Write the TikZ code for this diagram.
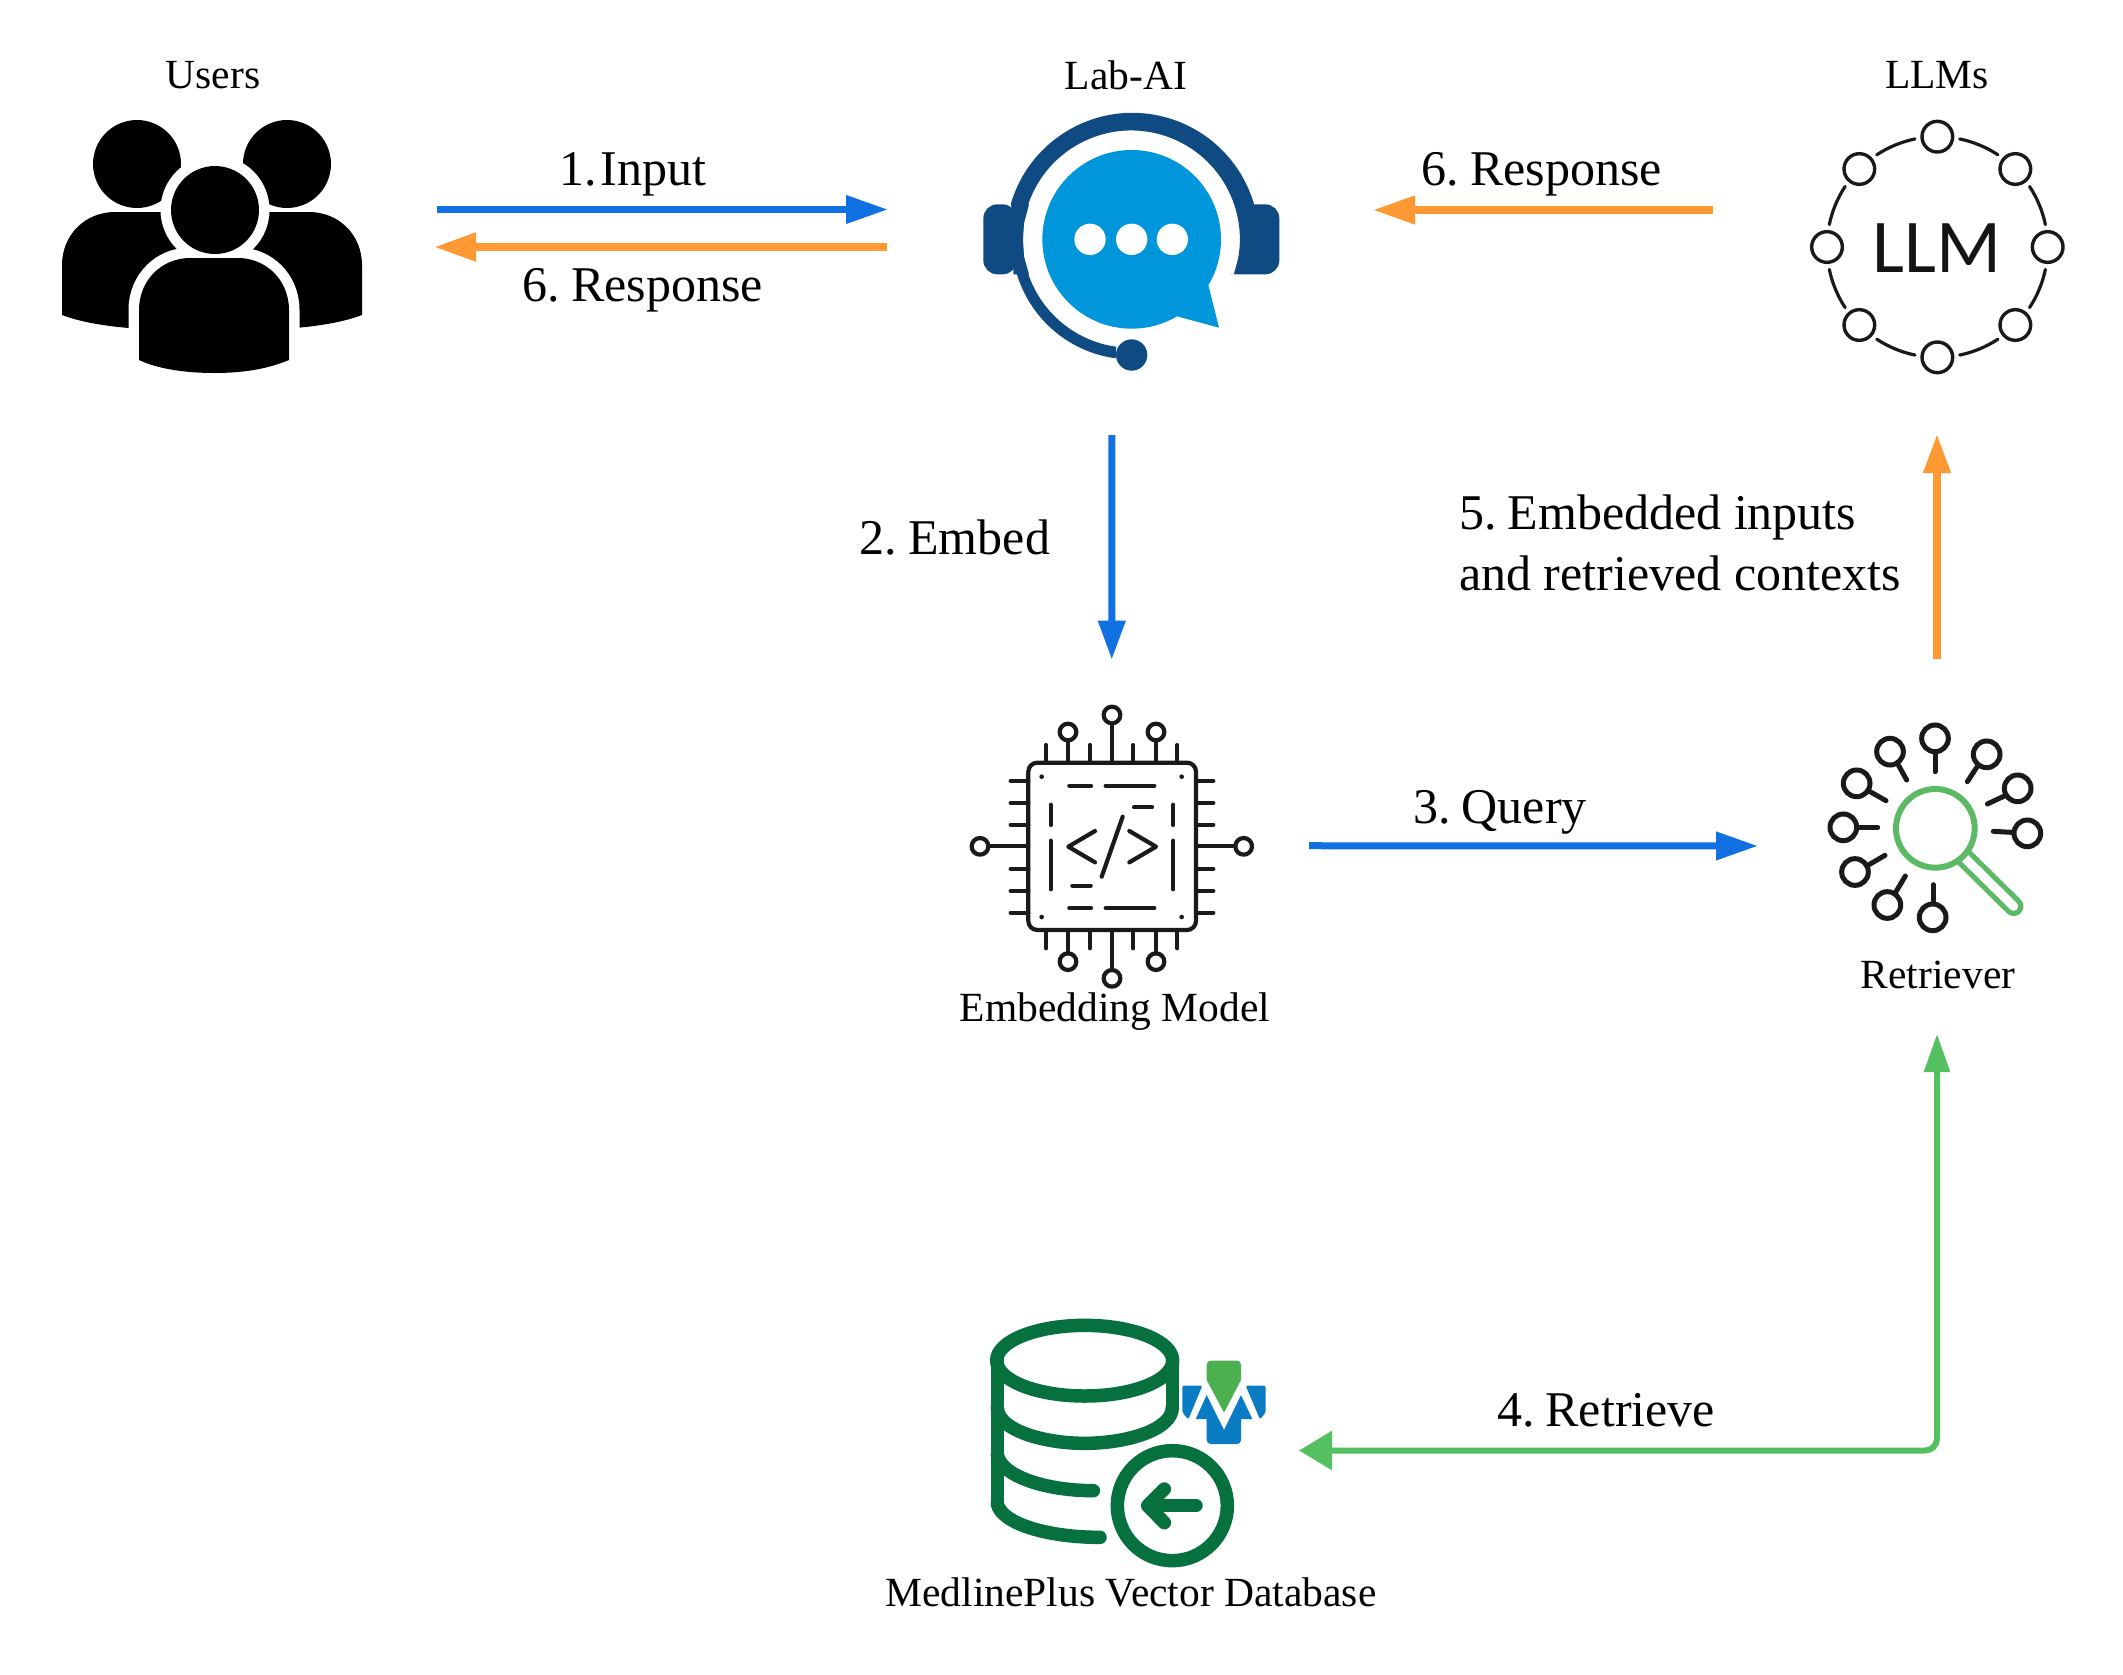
\documentclass[tikz,border=0pt]{standalone}
\usepackage{fontspec}
\setmainfont{Liberation Serif}
\newfontfamily\llmfont{Carlito}
\usetikzlibrary{arrows.meta}
\definecolor{arrblue}{HTML}{1170E2}
\definecolor{arrorange}{HTML}{FF9933}
\definecolor{arrgreen}{HTML}{55C060}
\definecolor{headdark}{HTML}{104A82}
\definecolor{bubble}{HTML}{0096DB}
\definecolor{inkdark}{HTML}{1A1A1A}
\definecolor{lensgreen}{HTML}{5CB966}
\definecolor{dbgreen}{HTML}{06703F}
\definecolor{medblue}{HTML}{0A7CC4}
\definecolor{medgreen}{HTML}{4CB050}
\tikzset{
  x=1pt,y=-1pt,
  iconbox/.style={inner sep=0pt,outer sep=0pt,minimum width=#1},
  smalllab/.style={inner sep=0pt,font=\fontsize{41.5}{50}\selectfont},
  biglab/.style={inner sep=0pt,font=\fontsize{50}{61}\selectfont,align=left},
  conn/.style={line width=#1,-{Triangle[length=42pt,width=27pt]}},
  connv/.style={line width=#1,-{Triangle[length=39pt,width=26pt]}},
  connboth/.style={line width=#1,{Triangle[length=38pt,width=25pt]}-{Triangle[length=33pt,width=38pt]}},
  chipline/.style={draw=inkdark,line width=4.2pt,line cap=round,line join=round},
  dbline/.style={draw=dbgreen,line width=13.5pt,line cap=round,line join=round},
  seek/.style={draw=inkdark,line width=5pt,line cap=round},
}
\begin{document}
\begin{tikzpicture}
\useasboundingbox (0,0) rectangle (2123,1674);
\fill[white] (0,0) rectangle (2123,1674);

% ---------- anchor boxes of the icons
\node[iconbox=300pt,minimum height=253pt] (users) at (212,246.5) {};
\node[iconbox=296pt,minimum height=258pt] (labai) at (1131,242) {};
\node[iconbox=254pt,minimum height=254pt] (llm) at (1937,247) {};
\node[iconbox=283pt,minimum height=282pt] (embed) at (1111.7,845.7) {};
\node[iconbox=216pt,minimum height=207pt] (retr) at (1935,826.5) {};
\node[iconbox=277pt,minimum height=247pt] (db) at (1128.5,1441.5) {};

% ---------- Users icon
\fill[black] (137,164) circle[radius=44pt] (287,164) circle[radius=44pt];
\fill[black] (62,315) -- (62,265) .. controls (62,235) and (85,212) .. (115,212) -- (180,212) -- (180,328) -- (129,328) .. controls (105,326) and (80,322) .. (62,315) -- cycle;
\fill[black] (362,315) -- (362,265) .. controls (362,235) and (339,212) .. (309,212) -- (244,212) -- (244,328) -- (295,328) .. controls (319,326) and (344,322) .. (362,315) -- cycle;
\def\cbody{(139,360) -- (139,310) .. controls (139,280) and (162,258) .. (190,258) -- (238,258) .. controls (266,258) and (289,280) .. (289,310) -- (289,360) .. controls (265,370) and (240,373) .. (214,373) .. controls (190,373) and (160,370) .. (139,360) -- cycle}
\draw[white,line width=21pt] (215,210) circle[radius=44pt];
\draw[white,line width=21pt,fill=white] \cbody;
\fill[black] (215,210) circle[radius=44pt];
\fill[black] \cbody;

% ---------- Lab-AI icon
\begin{scope}[shift={(950,90)},scale=1/3]
  \fill[bubble] (545,448) circle[radius=268pt];
  \fill[bubble] (775,585) -- (807,713) -- (685,680) -- (600,600) -- cycle;
  \fill[white] (420,448) circle[radius=47pt] (545,448) circle[radius=47pt] (667,448) circle[radius=47pt];
  \fill[headdark] (852,553) arc[start angle=-18.9,end angle=262.1,radius=326pt]
     -- (497,805) arc[start angle=262.3,end angle=197,radius=360pt]
     -- (183,340) arc[start angle=163.4,end angle=16.4,radius=380pt] -- cycle;
  \fill[headdark,rounded corners=14pt] (900,343) -- (988,343) -- (988,553) -- (880,553) [sharp corners] -- (852,553) -- (880,448) -- cycle;
  \fill[headdark] (237,343) -- (222,400) -- (219,448) -- (222,500) -- (237,553) -- (190,553) -- (190,343) -- cycle;
  \fill[headdark,rounded corners=14pt] (200,343) -- (100,343) -- (100,553) -- (200,553) -- cycle;
  \fill[headdark] (545,795) circle[radius=47pt];
\end{scope}

% ---------- LLM icon
\begin{scope}[shift={(1790,100)},scale=1/3]
  \foreach \px/\py in {442/110,773/441,442/772,111/441,208/207,676/207,208/675,676/675}
    \draw[black!90,line width=3.4pt] (\px,\py) circle[radius=46pt];
  \foreach \k in {0,...,7}
    \draw[black!90,line width=3.2pt,line cap=round]
      ({442+331*cos(11.7+45*\k)},{441-331*sin(11.7+45*\k)}) arc[start angle={11.7+45*\k},end angle={33.3+45*\k},radius=331pt];
\end{scope}
\node[inner sep=0pt,font=\llmfont\fontsize{76}{76}\selectfont,text=black!92] (llmword) at (1937,248) {LLM};

% ---------- Embedding chip icon
\begin{scope}[shift={(950,690)},scale=1/3]
  \draw[chipline,rounded corners=9pt] (235,218) rectangle (738,720);
  \foreach \p in {288,420,550,682} {
    \draw[chipline] (\p,218) -- (\p,165);
    \draw[chipline] (\p,720) -- (\p,775);
  }
  \foreach \p in {272,338,404,536,602,668} {
    \draw[chipline] (235,\p) -- (182,\p);
    \draw[chipline] (738,\p) -- (790,\p);
  }
  \draw[chipline] (354,218) -- (354,150) (618,218) -- (618,150) (486,218) -- (486,100);
  \draw[chipline] (354,720) -- (354,790) (618,720) -- (618,790) (486,720) -- (486,840);
  \draw[chipline] (235,469) -- (117,469) (738,469) -- (855,469);
  \draw[chipline] (354,126) circle[radius=25pt] (618,126) circle[radius=25pt] (486,75) circle[radius=25pt];
  \draw[chipline] (354,815) circle[radius=25pt] (618,815) circle[radius=25pt] (486,865) circle[radius=25pt];
  \draw[chipline] (90,469) circle[radius=25pt] (881,469) circle[radius=25pt];
  \draw[chipline] (358,287) -- (423,287) (467,287) -- (613,287) (552,352) -- (606,352);
  \draw[chipline] (302,344) -- (302,405) (302,452) -- (302,598) (670,344) -- (670,405) (670,452) -- (670,598);
  \draw[chipline] (367,587) -- (422,587) (358,654) -- (423,654) (467,654) -- (613,654);
  \draw[chipline] (435,423) -- (355,470) -- (435,517);
  \draw[chipline] (518,380) -- (455,560);
  \draw[chipline] (538,423) -- (618,470) -- (538,517);
  \fill[inkdark] (275,260) circle[radius=7pt] (695,260) circle[radius=7pt] (275,681) circle[radius=7pt] (695,681) circle[radius=7pt];
\end{scope}

% ---------- Retriever icon
\begin{scope}[shift={(1810,710)},scale=1/3]
  \foreach \cx/\cy/\ax/\ay/\bx/\by in {
    375/85/375/130/375/185,
    240/125/265/165/290/210,
    140/220/180/245/228/272,
    100/352/148/352/203/352,
    135/486/175/465/225/436,
    232/585/258/545/286/498,
    368/622/370/575/370/524,
    530/133/500/172/472/215,
    623/235/583/258/532/282,
    652/370/605/367/550/364} {
    \draw[seek] (\cx,\cy) circle[radius=40pt];
    \draw[seek] (\ax,\ay) -- (\bx,\by);
  }
  \draw[lensgreen,line width=19.5pt,line cap=round] (440,420) -- (611,589);
  \draw[white,line width=9pt,line cap=round] (450,430) -- (611,589);
  \draw[lensgreen,line width=6pt,fill=white] (376,355) circle[radius=118pt];
\end{scope}

% ---------- Database icon
\begin{scope}[shift={(970,1300)},scale=1/3]
  \draw[dbline] (344,182) ellipse[x radius=264pt,y radius=106pt];
  \draw[dbline] (82,182) -- (82,612);
  \draw[dbline] (607,182) -- (607,322);
  \draw[dbline] (82,322) .. controls (82,390) and (220,430) .. (344,430) .. controls (468,430) and (607,390) .. (607,322);
  \draw[dbline] (82,465) .. controls (95,530) and (230,572) .. (370,572);
  \draw[dbline] (82,612) .. controls (95,670) and (230,712) .. (390,712);
  \draw[dbline] (607,617) circle[radius=165pt];
  \draw[dbline] (678,617) -- (538,617);
  \draw[dbline] (583,567) -- (533,617) -- (583,668);
  % MedlinePlus logo
  \fill[medblue,rounded corners=2pt] (637,257) -- (697,257) -- (655,358) -- (637,338) -- cycle;
  \fill[medblue,rounded corners=2pt] (887,257) -- (827,257) -- (870,358) -- (887,338) -- cycle;
  \fill[medblue] (677,357) -- (710,285) -- (762,390) -- (813,285) -- (847,357) -- (813,357) [rounded corners=4pt] -- (813,432) -- (710,432) [sharp corners] -- (710,357) -- cycle;
  \fill[medgreen] (762,338) -- (710,240) [rounded corners=4pt] -- (710,182) -- (813,182) [sharp corners] -- (813,240) -- cycle;
\end{scope}

% ---------- Labels
\node[smalllab] (lusers) at (213,75) {Users};
\node[smalllab] (llabai) at (1126,75) {Lab-AI};
\node[smalllab] (lllms) at (1937,75) {LLMs};
\node[smalllab] (lembed) at (1115,1012) {Embedding Model};
\node[smalllab] (lretr) at (1938,975) {Retriever};
\node[smalllab] (ldb) at (1131,1592) {MedlinePlus Vector Database};
\node[biglab] (t1) at (633,174) {1.\kern.08em Input};
\node[biglab] (t6a) at (643,290) {6.\kern.22em Response};
\node[biglab] (t6b) at (1542,174) {6.\kern.22em Response};
\node[biglab] (t2) at (955,537) {2.\kern.22em Embed};
\node[biglab,anchor=west] (t5) at (1459,543) {5.\kern.22em Embedded inputs\\and retrieved contexts};
\node[biglab] (t3) at (1500,812) {3.\kern.22em Query};
\node[biglab] (t4) at (1606,1410) {4.\kern.22em Retrieve};

% ---------- Connectors
\draw[conn=7pt,arrblue,shorten <=75pt,shorten >=95pt] ([yshift=37pt]users.east) -- ([yshift=32.5pt]labai.west);
\draw[conn=8pt,arrorange,shorten <=96pt,shorten >=72pt] ([yshift=-5pt]labai.west) -- ([yshift=-.5pt]users.east);
\draw[conn=7.5pt,arrorange,shorten <=97pt,shorten >=94pt] ([yshift=37pt]llm.west) -- ([yshift=32pt]labai.east);
\draw[connv=7pt,arrblue,shorten <=64pt,shorten >=45pt] ([xshift=-19pt]labai.south) -- (embed.north);
\draw[conn=7pt,arrblue,shorten <=56pt,shorten >=69pt] (embed.east) -- ([yshift=-19.5pt]retr.west);
\draw[connv=7.5pt,arrorange,shorten <=64pt,shorten >=60pt] ([xshift=2pt]retr.north) -- (llm.south);
\draw[connboth=6pt,arrgreen,rounded corners=12pt,shorten <=104pt,shorten >=32pt] ([xshift=2pt]retr.south) |- ([yshift=-9pt]db.east);
\end{tikzpicture}
\end{document}
